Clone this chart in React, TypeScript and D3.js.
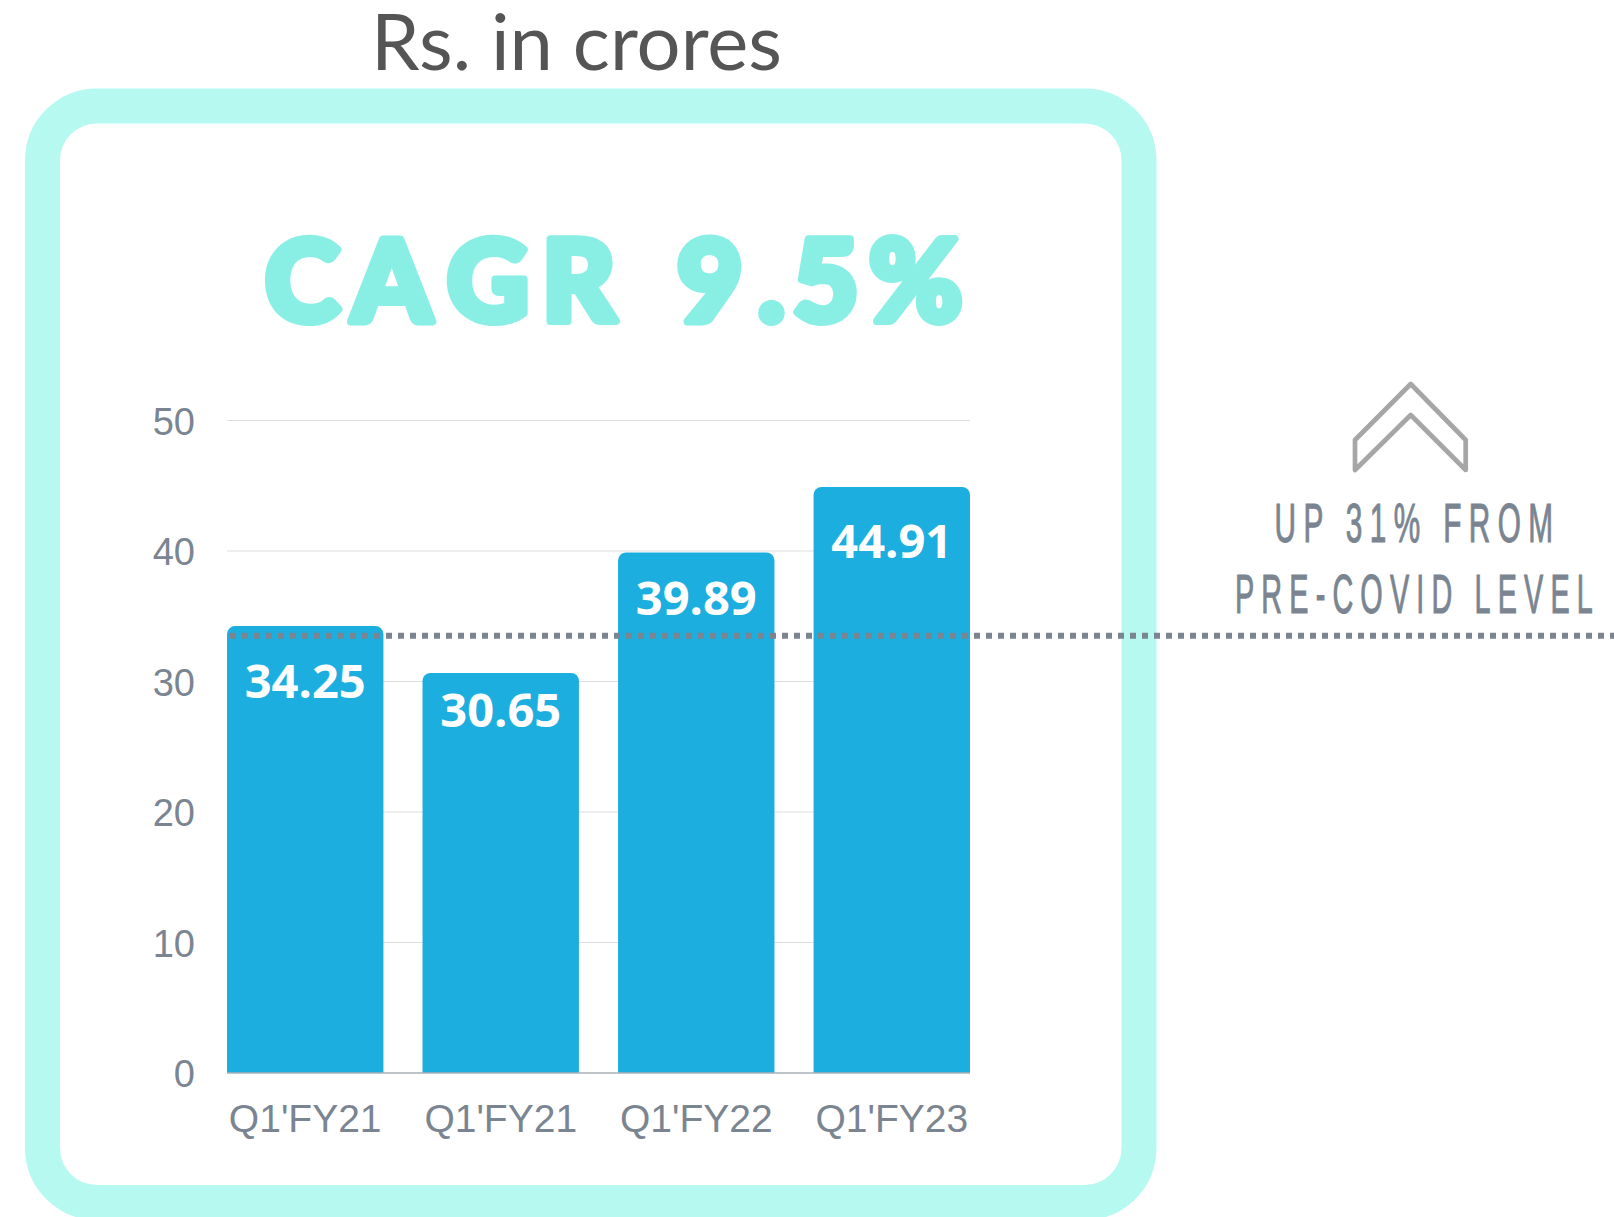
import React, { useEffect } from "react";
import * as d3 from "d3";

// ---- data ----
const categories = ["Q1'FY21", "Q1'FY21", "Q1'FY22", "Q1'FY23"];
const values = [34.25, 30.65, 39.89, 44.91];
const valueLabels = ["34.25", "30.65", "39.89", "44.91"];
const yTicks = [0, 10, 20, 30, 40, 50];
const referenceLevel = 33.5; // pre-covid level (dotted line)
const titleText = "Rs. in crores";
const cagrText = "CAGR 9.5%";
const noteLines = ["UP 31% FROM", "PRE-COVID LEVEL"];

// ---- layout ----
const W = 1614;
const H = 1217;
const plot = { left: 227, right: 970, top: 420.5, bottom: 1073 };
const labelOffsets = [72, 54, 63, 71];
// start x of each headline glyph (C A G R _ 9 . 5 %)
const cagrGlyphX = [265, 352, 447, 542, 640, 677, 758, 793, 869];

const axisColor = "#7a8591";
const barColor = "#1daee0";
const frameColor = "#b6f9f1";
const cagrColor = "#89efe5";

export default function App() {
  useEffect(() => {
    document.body.style.margin = "0";
  }, []);

  const x = d3
    .scaleBand<number>()
    .domain(values.map((_, i) => i))
    .range([plot.left, plot.right])
    .paddingInner(0.2)
    .paddingOuter(0);
  const y = d3.scaleLinear().domain([0, 50]).range([plot.bottom, plot.top]);
  const bw = x.bandwidth();
  const r = 8;

  const barPath = (i: number, v: number) => {
    const x0 = x(i)!;
    const x1 = x0 + bw;
    const y0 = y(v);
    const yb = y(0);
    return `M${x0},${yb}V${y0 + r}A${r},${r} 0 0 1 ${x0 + r},${y0}H${x1 - r}A${r},${r} 0 0 1 ${x1},${y0 + r}V${yb}Z`;
  };

  const refY = y(referenceLevel);

  return (
    <svg
      width={W}
      height={H}
      viewBox={`0 0 ${W} ${H}`}
      style={{ position: "absolute", left: 0, top: 0, display: "block", background: "#fff" }}
    >
      {/* title */}
      <text
        x={371}
        y={70}
        fontFamily="Lato, 'Open Sans', sans-serif"
        fontSize={78}
        fill="#555555"
        textLength={411}
        lengthAdjust="spacingAndGlyphs"
      >
        {titleText}
      </text>

      {/* frame */}
      <rect
        x={42.5}
        y={106}
        width={1096.5}
        height={1096.5}
        rx={54.5}
        ry={54.5}
        fill="none"
        stroke={frameColor}
        strokeWidth={35}
      />

      {/* CAGR headline */}
      <text
        x={cagrGlyphX.join(" ")}
        y={321}
        fontFamily="Lato, Inter, 'Open Sans', sans-serif"
        fontWeight={900}
        fontSize={113}
        fill={cagrColor}
        stroke={cagrColor}
        strokeWidth={8}
        strokeLinejoin="round"
      >
        {cagrText}
      </text>

      {/* gridlines */}
      {yTicks
        .filter((t) => t > 0)
        .map((t) => (
          <line
            key={`g${t}`}
            x1={plot.left}
            x2={plot.right}
            y1={y(t)}
            y2={y(t)}
            stroke="#dedede"
            strokeWidth={1}
          />
        ))}

      {/* y tick labels */}
      {yTicks.map((t) => (
        <text
          key={`t${t}`}
          x={195}
          y={y(t) + 14}
          textAnchor="end"
          fontFamily="'Liberation Sans', Arial, sans-serif"
          fontSize={38}
          fill={axisColor}
        >
          {t}
        </text>
      ))}

      {/* bars */}
      {values.map((v, i) => (
        <path key={`b${i}`} d={barPath(i, v)} fill={barColor} />
      ))}

      {/* baseline */}
      <line
        x1={plot.left}
        x2={plot.right}
        y1={y(0)}
        y2={y(0)}
        stroke="#aab1b8"
        strokeWidth={1.5}
      />

      {/* x labels */}
      {categories.map((c, i) => (
        <text
          key={`x${i}`}
          x={x(i)! + bw / 2}
          y={1131.7}
          textAnchor="middle"
          fontFamily="'Liberation Sans', Arial, sans-serif"
          fontSize={39}
          fill={axisColor}
        >
          {c}
        </text>
      ))}

      {/* value labels */}
      {values.map((v, i) => (
        <text
          key={`v${i}`}
          x={x(i)! + bw / 2}
          y={y(v) + labelOffsets[i]}
          textAnchor="middle"
          fontFamily="'Open Sans', sans-serif"
          fontWeight={700}
          fontSize={47}
          fill="#ffffff"
        >
          {valueLabels[i]}
        </text>
      ))}

      {/* dotted reference line */}
      <line
        x1={230}
        x2={W}
        y1={refY}
        y2={refY}
        stroke="#7b8591"
        strokeWidth={6}
        strokeDasharray="6 6"
      />

      {/* chevron */}
      <path
        d="M1355,470V440L1410.7,384L1465.7,440V470L1410.7,415Z"
        fill="none"
        stroke="#a6a6a6"
        strokeWidth={4.7}
        strokeLinejoin="round"
      />

      {/* note */}
      <text
        x={1274.5}
        y={541.7}
        fontFamily="'Liberation Sans Narrow', 'Liberation Sans', Arial, sans-serif"
        fontSize={56}
        fill={axisColor}
        stroke={axisColor}
        strokeWidth={1.1}
        letterSpacing={14}
        textLength={286}
        lengthAdjust="spacingAndGlyphs"
      >
        {noteLines[0]}
      </text>
      <text
        x={1235}
        y={613}
        fontFamily="'Liberation Sans Narrow', 'Liberation Sans', Arial, sans-serif"
        fontSize={56}
        fill={axisColor}
        stroke={axisColor}
        strokeWidth={1.1}
        letterSpacing={14}
        textLength={365}
        lengthAdjust="spacingAndGlyphs"
      >
        {noteLines[1]}
      </text>
    </svg>
  );
}
